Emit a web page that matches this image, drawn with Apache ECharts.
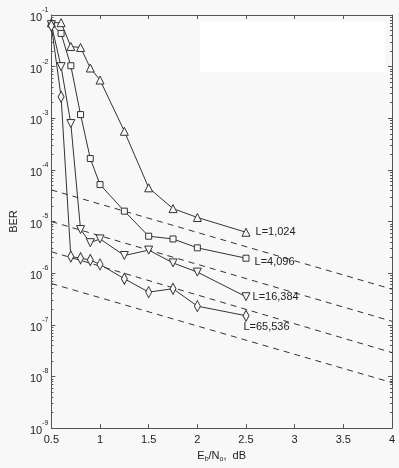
<!DOCTYPE html>
<html>
<head>
<meta charset="utf-8">
<script src="https://cdn.jsdelivr.net/npm/echarts@6/dist/echarts.min.js"></script>
<style>
html, body { margin: 0; padding: 0; background: #f8f8f8; }
#chart { width: 399px; height: 468px; }
</style>
</head>
<body>
<div id="chart"></div>
<script>
// Eb/No points (dB)
const ebno = [0.5, 0.6, 0.7, 0.8, 0.9, 1.0, 1.25, 1.5, 1.75, 2.0, 2.5];
// simulated BER per block length
const berL1024 = [0.071, 0.071, 0.0245, 0.0235, 0.0094, 0.0055, 5.6e-4, 4.5e-5, 1.78e-5, 1.2e-5, 6.2e-6];
const berL4096 = [0.067, 0.044, 0.0104, 1.18e-3, 1.66e-4, 5.2e-5, 1.59e-5, 5.2e-6, 4.6e-6, 3.1e-6, 1.95e-6];
const berL16384 = [0.065, 0.0100, 7.9e-4, 7.0e-6, 3.9e-6, 4.6e-6, 2.2e-6, 2.8e-6, 1.58e-6, 1.05e-6, 3.5e-7];
const berL65536 = [0.062, 2.6e-3, 2.1e-6, 1.95e-6, 1.8e-6, 1.48e-6, 7.8e-7, 4.3e-7, 5.0e-7, 2.3e-7, 1.5e-7];
const seriesNames = ["L=1,024", "L=4,096", "L=16,384", "L=65,536"];
// dashed bound lines (start / end at x=0.5 and x=4)
const boundX = [0.5, 4];
const bound1 = [4.1e-5, 4.9e-7];
const bound2 = [1.0e-5, 1.17e-7];
const bound3 = [2.6e-6, 2.9e-8];
const bound4 = [6.3e-7, 7.6e-9];
const xTicks = [0.5, 1, 1.5, 2, 2.5, 3, 3.5, 4];

const font = '"Liberation Sans Narrow", "Liberation Sans", Arial, sans-serif';
const ink = "#333";

const chart = echarts.init(document.getElementById("chart"));

const makeLine = (name, ys, symbol, size, rotate, labelOffset) => ({
    name: name,
    type: "line",
    data: ebno.map((x, i) => {
        const item = { value: [x, ys[i]] };
        if (i === ebno.length - 1) {
            item.label = {
                show: true,
                formatter: name,
                position: "right",
                offset: labelOffset,
                color: "#222",
                fontSize: 11,
                fontFamily: font
            };
        }
        return item;
    }),
    symbol: symbol,
    symbolSize: size,
    symbolRotate: rotate,
    showAllSymbol: true,
    lineStyle: { color: ink, width: 1 },
    itemStyle: { color: "#f8f8f8", borderColor: ink, borderWidth: 1 },
    emphasis: { disabled: true },
    z: 3
});

const makeBound = (ys) => ({
    type: "line",
    data: boundX.map((x, i) => [x, ys[i]]),
    symbol: "none",
    lineStyle: { color: ink, width: 1, type: [6, 5] },
    emphasis: { disabled: true },
    z: 2
});

const yLabel = (v) => "{b|10}{s|" + Math.round(Math.log10(v)) + "}";

const logAxis = (show) => ({
    type: "log",
    logBase: 10,
    min: 1e-9,
    max: 1e-1,
    position: show ? "left" : "right",
    name: show ? "BER" : "",
    nameLocation: "middle",
    nameGap: 20,
    nameTextStyle: { color: "#222", fontSize: 11, fontFamily: font },
    axisLine: { show: true, onZero: false, lineStyle: { color: "#555", width: 1 } },
    axisTick: { show: true, inside: true, length: 4, lineStyle: { color: "#555" } },
    minorTick: { show: true, splitNumber: 9, length: 2, lineStyle: { color: "#555" } },
    splitLine: { show: false },
    axisLabel: {
        show: show,
        margin: 3,
        formatter: yLabel,
        rich: {
            b: { fontSize: 11, fontFamily: font, color: "#222", padding: [6, 0, 0, 0] },
            s: { fontSize: 7, fontFamily: font, color: "#222", verticalAlign: "top" }
        }
    }
});

const linAxis = (show) => ({
    type: "value",
    min: 0.5,
    max: 4,
    interval: 0.5,
    position: show ? "bottom" : "top",
    name: show ? "{n|E}{sub|b}{n|/N}{sub|o}{n|,  dB}" : "",
    nameLocation: "middle",
    nameGap: 17,
    nameTextStyle: {
        rich: {
            n: { fontSize: 11, fontFamily: font, color: "#222" },
            sub: { fontSize: 7, fontFamily: font, color: "#222", padding: [8, 0, 0, 0] }
        }
    },
    axisLine: { show: true, onZero: false, lineStyle: { color: "#555", width: 1 } },
    axisTick: { show: true, inside: true, length: 4, lineStyle: { color: "#555" } },
    splitLine: { show: false },
    axisLabel: {
        show: show,
        margin: 6,
        fontSize: 11,
        fontFamily: font,
        color: "#222",
        customValues: xTicks,
        formatter: (v) => String(v)
    }
});

const option = {
    backgroundColor: "#f8f8f8",
    animation: false,
    grid: { left: 31, right: 7, top: 15, bottom: 38 },
    xAxis: [linAxis(true), linAxis(false)],
    yAxis: [logAxis(true), logAxis(false)],
    graphic: [
        {
            type: "rect",
            shape: { x: 200, y: 21, width: 185, height: 51 },
            style: { fill: "#ffffff" },
            z: 0
        }
    ],
    series: [
        makeBound(bound1),
        makeBound(bound2),
        makeBound(bound3),
        makeBound(bound4),
        makeLine(seriesNames[0], berL1024, "triangle", 8, 0, [0, 0]),
        makeLine(seriesNames[1], berL4096, "rect", 6, 0, [0, 4]),
        makeLine(seriesNames[2], berL16384, "triangle", 8, 180, [-3, 0]),
        makeLine(seriesNames[3], berL65536, "diamond", [6, 11], 0, [-11, 11])
    ]
};

chart.setOption(option);
window.addEventListener("resize", () => chart.resize());
</script>
</body>
</html>
